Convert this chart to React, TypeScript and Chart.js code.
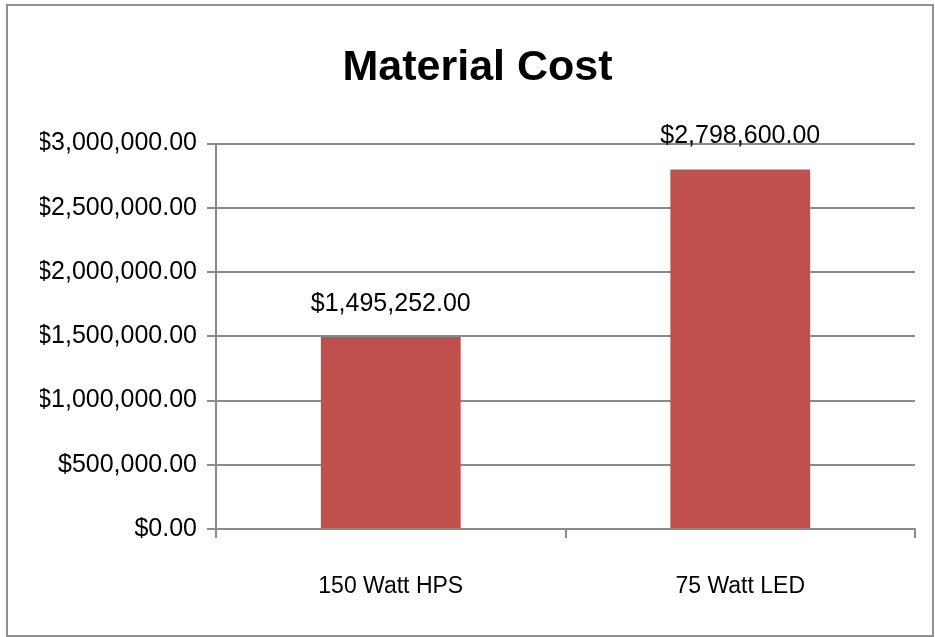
import React, { useEffect, useRef } from "react";
import { Chart, registerables } from "chart.js";

Chart.register(...registerables);

const categories: string[] = ["150 Watt HPS", "75 Watt LED"];
const materialCost: number[] = [1495252, 2798600];
const yMin = 0;
const yMax = 3000000;
const yStep = 500000;
const titleText = "Material Cost";

const FONT = "'Liberation Sans', Arial, sans-serif";
const GRID = "#8a8a8a";

const fmt = (v: number) =>
  "$" + v.toLocaleString("en-US", { minimumFractionDigits: 2, maximumFractionDigits: 2 });

const valueLabels = {
  id: "valueLabels",
  afterDatasetsDraw(chart: any) {
    const ctx = chart.ctx;
    const meta = chart.getDatasetMeta(0);
    const data = chart.data.datasets[0].data as number[];
    ctx.save();
    ctx.font = `25px ${FONT}`;
    ctx.fillStyle = "#000";
    ctx.textAlign = "center";
    ctx.textBaseline = "middle";
    meta.data.forEach((el: any, i: number) => {
      ctx.fillText(fmt(data[i]), el.x, el.y - 33);
    });
    ctx.restore();
  },
};

export default function App() {
  const ref = useRef<HTMLCanvasElement | null>(null);
  useEffect(() => {
    if (!ref.current) return;
    const chart = new Chart(ref.current, {
      type: "bar",
      data: {
        labels: categories,
        datasets: [
          {
            label: "Material Cost",
            data: materialCost,
            backgroundColor: "#C0504D",
            borderWidth: 0,
            categoryPercentage: 0.4,
            barPercentage: 1,
          },
        ],
      },
      options: {
        animation: false,
        responsive: false,
        maintainAspectRatio: false,
        layout: { padding: { left: 40, right: 20, top: 0, bottom: 0 } },
        plugins: {
          legend: { display: false },
          tooltip: { enabled: false },
          title: {
            display: true,
            text: titleText,
            color: "#000",
            font: { family: FONT, size: 43, weight: "bold", lineHeight: 1.2 },
            padding: { top: 42, bottom: 50 },
          },
        },
        scales: {
          x: {
            type: "category",
            offset: true,
            grid: {
              display: true,
              drawOnChartArea: false,
              drawTicks: true,
              tickLength: 9,
              offset: true,
              color: GRID,
              lineWidth: 2,
            },
            border: { display: true, color: GRID, width: 2 },
            ticks: {
              color: "#000",
              font: { family: FONT, size: 23 },
              padding: 35,
              maxRotation: 0,
            },
            afterFit: (scale: any) => {
              scale.height = 108;
            },
          },
          y: {
            min: yMin,
            max: yMax,
            grid: {
              display: true,
              drawOnChartArea: true,
              drawTicks: true,
              tickLength: 9,
              color: GRID,
              lineWidth: 2,
            },
            border: { display: true, color: GRID, width: 2 },
            ticks: {
              stepSize: yStep,
              color: "#000",
              font: { family: FONT, size: 25 },
              padding: 10,
              callback: (v: any) => fmt(Number(v)),
            },
            afterFit: (scale: any) => {
              scale.width = 176;
            },
          },
        },
      },
      plugins: [valueLabels],
    } as any);
    return () => chart.destroy();
  }, []);

  return (
    <div style={{ position: "absolute", left: 0, top: 0, width: 935, height: 637, background: "#fff" }}>
      <canvas ref={ref} width={935} height={637} style={{ position: "absolute", left: 0, top: 0, width: 935, height: 637 }} />
      <div
        style={{
          position: "absolute",
          left: 6,
          top: 4,
          width: 924,
          height: 629,
          border: "2px solid #909090",
          pointerEvents: "none",
        }}
      />
    </div>
  );
}
